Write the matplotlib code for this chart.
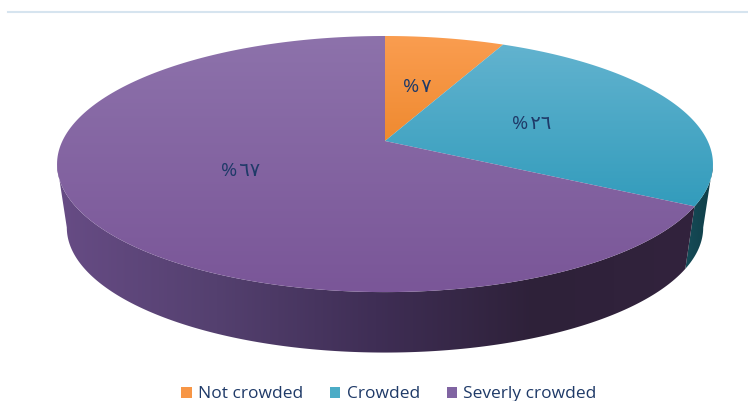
#!/usr/bin/python
import numpy as np
import matplotlib
matplotlib.use("Agg")
import matplotlib.pyplot as plt
from matplotlib.colors import LinearSegmentedColormap
from matplotlib.patches import Polygon, Patch

categories = ["Not crowded", "Crowded", "Severly crowded"]
values = [7, 26, 67]
legend_colors = ["#f79646", "#4bacc6", "#8064a2"]
top_colors = [["#fa9d50", "#ef8a30"], ["#62b3cf", "#339cbc"], ["#8d72ab", "#7a5698"]]
side_colors = [["#b5651d", "#8a4a12"], ["#164c58", "#0f3d47"], ["#674c85", "#54406f", "#3f2e55", "#2e2139", "#32233d"]]
text_color = "#1f3a68"
label_pos = [(417, 87), (532, 124), (241, 171)]

W, H = 748, 401
k = 0.18  # tilt of the disc, perspective
cx = 385.0


def rim(th, x0, y0, bx, ay):
    # th clockwise from 12 o'clock
    u, v = np.sin(th), np.cos(th)
    d = 1 + k * v
    return x0 + bx * u / d, y0 - ay * v / d


def top(th):
    return rim(th, cx, 141.0, 322.6, 123.9)


def bottom(th):
    return rim(th, cx, 205.0, 313.0, 121.0)


def fill(ax, pts, colors, horizontal=False):
    cmap = LinearSegmentedColormap.from_list("c", colors)
    if horizontal:
        grad = np.linspace(0, 1, 256).reshape(1, -1)
        ext = [pts[:, 0].min(), pts[:, 0].max(), H, 0]
    else:
        grad = np.linspace(0, 1, 256).reshape(-1, 1)
        ext = [0, W, pts[:, 1].max(), pts[:, 1].min()]
    im = ax.imshow(grad, cmap=cmap, extent=ext, aspect="auto", zorder=2, interpolation="bilinear")
    p = Polygon(pts, closed=True, transform=ax.transData, fc="none", ec="none")
    ax.add_patch(p)
    im.set_clip_path(p)


fig = plt.figure(figsize=(W / 100, H / 100), dpi=100)
ax = fig.add_axes([0, 0, 1, 1])
ax.set_xlim(0, W)
ax.set_ylim(H, 0)
ax.axis("off")

ax.plot([8, W], [12, 12], color="#d6e4ef", lw=1.5, zorder=1)

edges = 2 * np.pi * np.cumsum([0] + values) / float(sum(values))

# only the front of the wall shows, between the two points where the rim turns
front0 = np.arccos(-k)
front1 = 2 * np.pi - front0
for i in range(len(values)):
    a = max(edges[i], front0)
    b = min(edges[i + 1], front1)
    if b <= a:
        continue
    th = np.linspace(a, b, 200)
    xt, yt = top(th)
    xb, yb = bottom(th)
    pts = np.column_stack([np.r_[xt, xb[::-1]], np.r_[yt, yb[::-1]]])
    fill(ax, pts, side_colors[i], horizontal=True)

for i in range(len(values)):
    th = np.linspace(edges[i], edges[i + 1], 200)
    xt, yt = top(th)
    pts = np.column_stack([np.r_[cx, xt], np.r_[141.0, yt]])
    fill(ax, pts, top_colors[i])

digits = str.maketrans("0123456789", "٠١٢٣٤٥٦٧٨٩")
for v, (x, y) in zip(values, label_pos):
    ax.text(x, y, "%\u200a" + str(v).translate(digits), color=text_color, fontsize=14,
            ha="center", va="center", family=["Open Sans", "DejaVu Sans"], zorder=5)

handles = [Patch(fc=c, ec="none", label=n) for c, n in zip(legend_colors, categories)]
ax.legend(handles=handles, loc="lower center", bbox_to_anchor=(0.52, -0.042), ncol=3, frameon=False,
          handlelength=0.6, handleheight=0.6, handletextpad=0.35, columnspacing=1.55,
          labelcolor=text_color, prop={"family": "Open Sans", "size": 12.5})

fig.savefig("out.png", dpi=100)
